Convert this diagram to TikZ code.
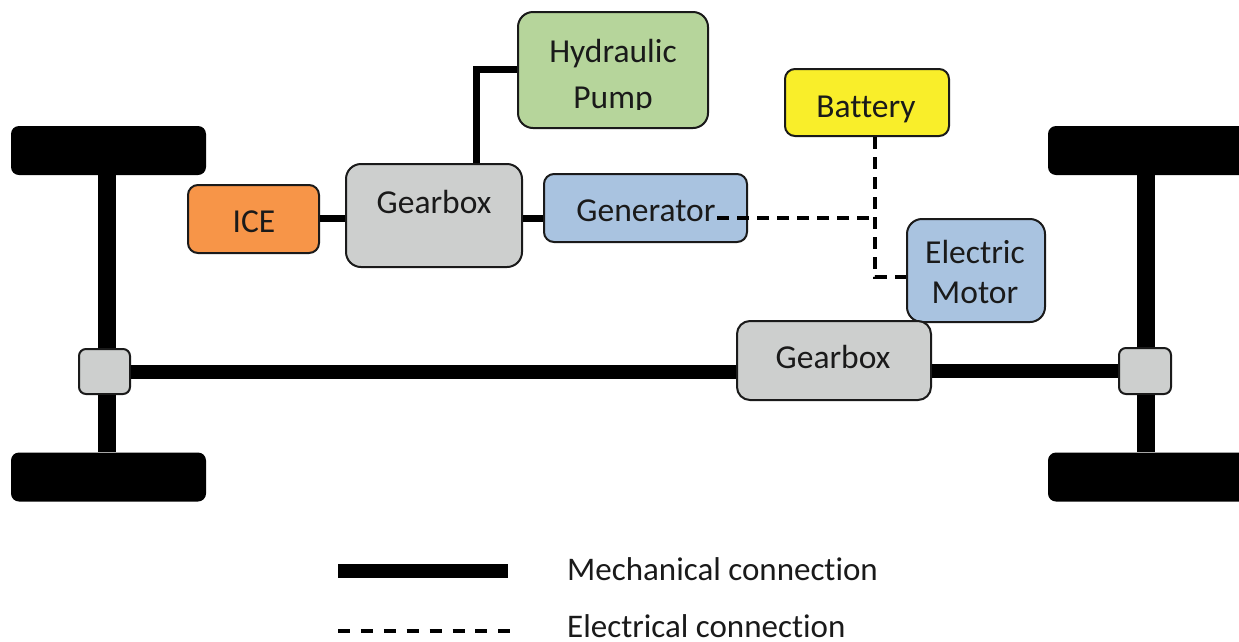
\documentclass[tikz,border=0pt]{standalone}
\usepackage{fontspec}
\setmainfont[Ligatures=CommonOff]{Carlito}
\definecolor{gbx}{HTML}{CDCFCE}
\definecolor{blu}{HTML}{A9C3E0}
\definecolor{grn}{HTML}{B6D59B}
\definecolor{org}{HTML}{F79548}
\definecolor{yel}{HTML}{F9EE2A}
\definecolor{ink}{HTML}{1A1A1A}
\tikzset{
  x=1pt,y=-1pt,
  box/.style={draw=ink,line width=2pt,rounded corners=#1,inner sep=0pt},
  box/.default=13pt,
  wheel/.style={fill=black,rounded corners=8pt,draw=none,inner sep=0pt,minimum width=195pt,minimum height=49pt},
  mech/.style={line width=7pt,black},
  axle/.style={line width=18pt,black},
  shaft/.style={line width=14pt,black},
  elec/.style={line width=3.4pt,black,dash pattern=on 12pt off 8pt},
  legelec/.style={line width=3.4pt,black,dash pattern=on 12pt off 10.9pt},
  lbl/.style={inner sep=0pt,anchor=base,align=center,font=\fontsize{33.5}{42}\selectfont,text=ink},
  legendtxt/.style={lbl,anchor=base west,font=\fontsize{33}{40}\selectfont},
}
\begin{document}
\begin{tikzpicture}
\useasboundingbox[fill=white] (0,0) rectangle (1239,641);
% wheels
\node[wheel] (wtl) at (108.5,150.5) {};
\node[wheel] (wbl) at (108.5,477) {};
\begin{scope}
\clip (0,0) rectangle (1239,641);
\node[wheel,minimum width=200pt] (wtr) at (1148,150.5) {};
\node[wheel,minimum width=200pt] (wbr) at (1148,477) {};
\end{scope}
% coordinates
\coordinate (lax) at (107,371);
\coordinate (rax) at (1146,371);
\coordinate (pumpcorner) at (476,69);
\coordinate (genin) at (717,218);
\coordinate (jn) at (875,218);
\coordinate (motin) at (875,277);
% boxes
\node[box=15pt,fill=grn,minimum width=190pt,minimum height=116pt] (hyd) at (613,70) {};
\node[box=10pt,fill=yel,minimum width=164pt,minimum height=67pt] (bat) at (867,102.5) {};
\node[box=10pt,fill=blu,minimum width=203pt,minimum height=68pt] (gen) at (645.5,208) {};
\node[box=15pt,fill=gbx,minimum width=176pt,minimum height=103pt] (gb1) at (434,215.5) {};
\node[box=10pt,fill=org,minimum width=131pt,minimum height=68pt] (ice) at (253.5,219) {};
\node[box=15pt,fill=blu,minimum width=138pt,minimum height=103pt] (mot) at (976,270.5) {};
\node[box=13pt,fill=gbx,minimum width=194pt,minimum height=79pt] (gb2) at (834,360.5) {};
\node[box=7pt,fill=gbx,minimum width=51pt,minimum height=45pt] (dl) at (104.5,371.5) {};
\node[box=7pt,fill=gbx,minimum width=52pt,minimum height=46pt] (dr) at (1145,371) {};
% connectors
\draw[axle] (wtl.south -| lax) -- (dl.north -| lax);
\draw[axle] (dl.south -| lax) -- (wbl.north -| lax);
\draw[axle] (wtr.south -| rax) -- (dr.north -| rax);
\draw[axle] (dr.south -| rax) -- (wbr.north -| rax);
\draw[shaft] (dl.east) -- (gb2.west |- dl.east);
\draw[shaft] (gb2.east |- dr.west) -- (dr.west);
\draw[mech] (ice.east |- 0,218) -- (gb1.west |- 0,218);
\draw[mech] (gb1.east |- 0,218) -- (gen.west |- 0,218);
\draw[mech] (gb1.north -| pumpcorner) -- (pumpcorner) -- (hyd.west |- pumpcorner);
\draw[elec] (genin) -- (jn);
\draw[elec] (bat.south -| jn) -- (jn) -- (motin) -- (mot.west |- motin);
% labels
\begin{scope}
\clip (500,0) rectangle (720,109);
\node[lbl] (hydt) at (613,108) {Hydraulic\\[4pt]Pump};
\end{scope}
\node[lbl] (batt) at (866,117) {Battery};
\node[lbl] (gent) at (646,221) {Generator};
\node[lbl] (gb1t) at (434,213) {Gearbox};
\node[lbl] (icet) at (254,232) {ICE};
\node[lbl] (mott) at (975,303) {Electric\\[-2pt]Motor};
\node[lbl] (gb2t) at (833,368) {Gearbox};
% legend
\node[legendtxt] (lm) at (567,580) {Mechanical connection};
\node[legendtxt] (le) at (567,637) {Electrical connection};
\coordinate (lm0) at (338,571);
\coordinate (lm1) at (508,571);
\coordinate (le0) at (338,631);
\coordinate (le1) at (510,631);
\draw[line width=14pt,black] (lm0) -- (lm1);
\draw[legelec] (le0) -- (le1);
\end{tikzpicture}
\end{document}
